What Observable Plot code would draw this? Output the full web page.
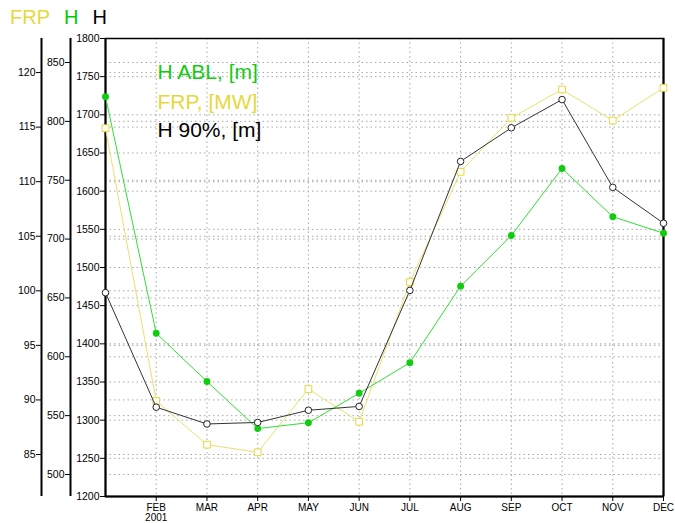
<!DOCTYPE html>
<html><head><meta charset="utf-8">
<script src="https://cdn.jsdelivr.net/npm/d3@7"></script>
<script src="https://cdn.jsdelivr.net/npm/@observablehq/plot@0.6"></script>
<style>
body{margin:0;background:#fff;font-family:"Liberation Sans",Arial,sans-serif}
#title{height:30px;line-height:34px;padding-left:10px;font-size:20px;white-space:nowrap}
#title span{display:inline-block;margin-right:14px}
</style></head><body>
<div id="title"><span style="color:#e6d83c">FRP</span><span style="color:#00cc00">H</span><span style="color:#000">H</span></div>
<div id="chart"></div>
<script>
const months = ["JAN","FEB","MAR","APR","MAY","JUN","JUL","AUG","SEP","OCT","NOV","DEC"];
const hAbl = [821, 620, 579, 539, 544, 569, 595, 660, 703, 760, 719, 705];
const frp  = [114.9, 89.9, 85.9, 85.2, 91.0, 88.0, 100.8, 110.9, 115.85, 118.45, 115.6, 118.6];
const h90  = [1467, 1317, 1295, 1297, 1313, 1318, 1470, 1639, 1683, 1720, 1605, 1558];
const h90Ticks = [1200,1250,1300,1350,1400,1450,1500,1550,1600,1650,1700,1750,1800];
const hTicks = [500,550,600,650,700,750,800,850];
const frpTicks = [85,90,95,100,105,110,115,120];
const legendLabels = ["H ABL, [m]", "FRP, [MW]", "H 90%, [m]"];

const yDomain = [1200, 1800];
const hDomain = [481.3, 870.4];
const frpDomain = [81.15, 123.12];
const lin = (a, b) => v => yDomain[0] + (v - a[0]) / (a[1] - a[0]) * (b[1] - b[0]);
const fromH = lin(hDomain, yDomain);
const fromF = lin(frpDomain, yDomain);
const toH = y => hDomain[0] + (y - yDomain[0]) / (yDomain[1] - yDomain[0]) * (hDomain[1] - hDomain[0]);
const toF = y => frpDomain[0] + (y - yDomain[0]) / (yDomain[1] - yDomain[0]) * (frpDomain[1] - frpDomain[0]);

const rows = months.map((m, i) => ({m: i + 1, h: fromH(hAbl[i]), f: fromF(frp[i]), k: h90[i]}));

const GREEN = "#11cc11", YELLOW = "#e6d83c", LGREEN = "#33dd33", LYELLOW = "#ece070";
const grid = {stroke: "#a8a8a8", strokeDasharray: "1.5,3", strokeWidth: 1};

const chart = Plot.plot({
  width: 675, height: 493,
  marginTop: 8, marginBottom: 27, marginLeft: 105, marginRight: 12,
  style: {fontFamily: "Liberation Sans, Arial, sans-serif", fontSize: "10px", background: "#fff", color: "#000"},
  x: {domain: [1, 12], label: null},
  y: {domain: yDomain, label: null},
  marks: [
    Plot.ruleX(d3.range(2, 12), grid),
    Plot.ruleY(h90Ticks, grid),
    Plot.ruleY(hTicks.map(fromH), grid),
    Plot.ruleY(frpTicks.map(fromF), grid),
    Plot.frame({stroke: "#000", strokeWidth: 1.5}),
    Plot.ruleX([1, 12], {stroke: "#000", strokeWidth: 2}),
    Plot.ruleY([1200], {stroke: "#000", strokeWidth: 2}),
    Plot.ruleX([1], {stroke: "#000", strokeWidth: 2, dx: -35}),
    Plot.ruleX([1], {stroke: "#000", strokeWidth: 2, dx: -64}),
    Plot.axisX(d3.range(2, 13), {tickFormat: d => d === 2 ? "FEB\n2001" : months[d - 1], tickSize: 5, tickPadding: 2, fontSize: 10, label: null}),
    Plot.axisY(h90Ticks, {tickSize: 5, tickPadding: 1, fontSize: 10.5, label: null, tickFormat: d => String(d)}),
    Plot.axisY(hTicks.map(fromH), {tickSize: 5, tickPadding: 1, fontSize: 10.5, dx: -35, label: null, tickFormat: d => String(Math.round(toH(d)))}),
    Plot.axisY(frpTicks.map(fromF), {tickSize: 5, tickPadding: 1, fontSize: 10.5, dx: -64, label: null, tickFormat: d => String(Math.round(toF(d)))}),
    Plot.line(rows, {x: "m", y: "f", stroke: LYELLOW, strokeWidth: 1}),
    Plot.dot(rows, {x: "m", y: "f", symbol: "square", r: 3.8, fill: "#fff", stroke: YELLOW, strokeWidth: 1}),
    Plot.line(rows, {x: "m", y: "h", stroke: LGREEN, strokeWidth: 1}),
    Plot.dot(rows, {x: "m", y: "h", r: 2.7, fill: GREEN, stroke: GREEN}),
    Plot.line(rows, {x: "m", y: "k", stroke: "#333", strokeWidth: 1}),
    Plot.dot(rows, {x: "m", y: "k", r: 3.3, fill: "#fff", stroke: "#222", strokeWidth: 1}),
    Plot.text([legendLabels[0]], {text: d => d, frameAnchor: "top-left", dx: 52, dy: 34, textAnchor: "start", lineAnchor: "middle", fontSize: 21, fill: GREEN}),
    Plot.text([legendLabels[1]], {text: d => d, frameAnchor: "top-left", dx: 52, dy: 64, textAnchor: "start", lineAnchor: "middle", fontSize: 21, fill: YELLOW}),
    Plot.text([legendLabels[2]], {text: d => d, frameAnchor: "top-left", dx: 52, dy: 92, textAnchor: "start", lineAnchor: "middle", fontSize: 21, fill: "#000"})
  ]
});
document.getElementById("chart").appendChild(chart);
</script>
</body></html>
